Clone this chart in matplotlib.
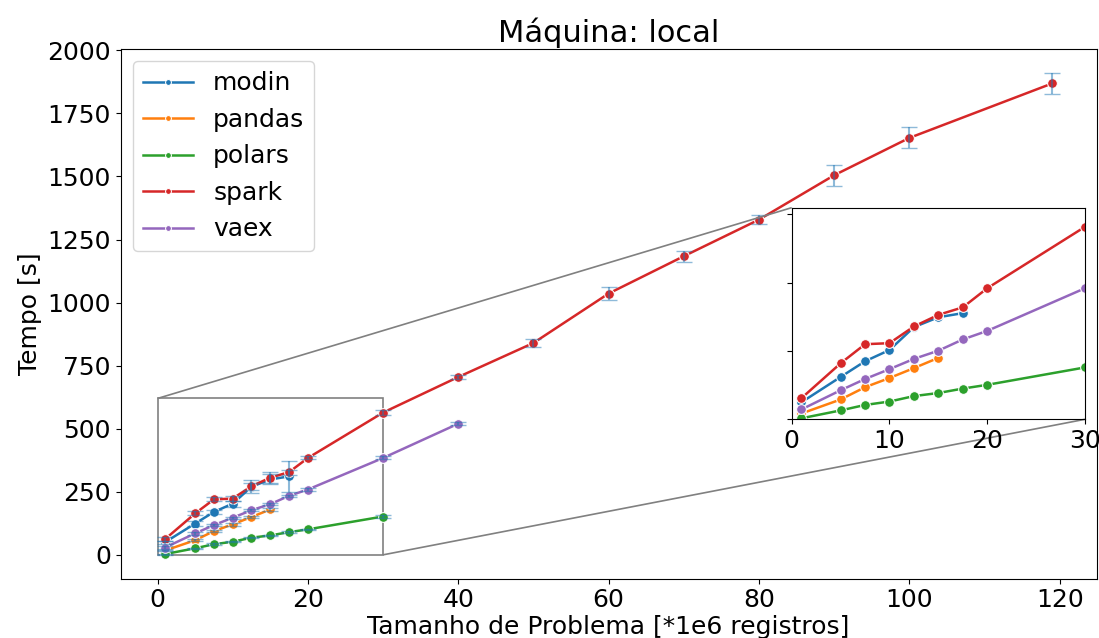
import numpy as np
import matplotlib.pyplot as plt
from mpl_toolkits.axes_grid1.inset_locator import mark_inset

# Tempo medio [s] por biblioteca e tamanho (*1e6 registros)
bibliotecas = ['modin', 'pandas', 'polars', 'spark', 'vaex']
cores = ['#1f77b4', '#ff7f0e', '#2ca02c', '#d62728', '#9467bd']

x_modin = [1, 5, 7.5, 10, 12.5, 15, 17.5]
y_modin = [50, 124, 170, 203, 270, 299, 311]
e_modin = [6, 10, 8, 12, 14, 20, 60]

x_pandas = [1, 5, 7.5, 10, 12.5, 15]
y_pandas = [17, 58, 94, 121, 150, 180]
e_pandas = [3, 5, 5, 5, 5, 6]

x_polars = [1, 5, 7.5, 10, 12.5, 15, 17.5, 20, 30]
y_polars = [3, 26, 42, 52, 68, 77, 90, 101, 152]
e_polars = [2, 3, 3, 3, 3, 3, 3, 3, 4]

x_spark = [1, 5, 7.5, 10, 12.5, 15, 17.5, 20, 30, 40, 50, 60, 70, 80, 90, 100, 119]
y_spark = [62, 164, 220, 223, 272, 306, 328, 384, 564, 705, 840, 1036, 1184, 1329, 1505, 1653, 1869]
e_spark = [8, 8, 8, 10, 26, 23, 10, 6, 10, 8, 15, 25, 22, 17, 41, 42, 41]

x_vaex = [1, 5, 7.5, 10, 12.5, 15, 17.5, 20, 30, 40]
y_vaex = [29, 85, 118, 147, 177, 201, 234, 259, 384, 520]
e_vaex = [5, 5, 5, 5, 5, 5, 5, 5, 6, 6]

xs = [x_modin, x_pandas, x_polars, x_spark, x_vaex]
ys = [y_modin, y_pandas, y_polars, y_spark, y_vaex]
es = [e_modin, e_pandas, e_polars, e_spark, e_vaex]

fig = plt.figure(figsize=(10.99, 6.38), dpi=100)
ax = fig.add_axes([0.1098, 0.0930, 0.888, 0.8302])

for nome, cor, x, y in zip(bibliotecas, cores, xs, ys):
    ax.plot(x, y, '-o', color=cor, lw=1.8, ms=7, mec='white', mew=0.75, label=nome)
for x, y, e in zip(xs, ys, es):
    ax.errorbar(x, y, yerr=e, fmt='none', ecolor='#1f77b4', alpha=0.5, capsize=5.5, elinewidth=1.5)

ax.set_title('Máquina: local', fontsize=22, pad=5)
ax.set_xlabel('Tamanho de Problema [*1e6 registros]', fontsize=18, labelpad=2)
ax.set_ylabel('Tempo [s]', fontsize=18)
ax.tick_params(labelsize=18)
ax.set_yticks(np.arange(0, 2001, 250))
ax.legend(loc='upper left', fontsize=18, markerscale=0.6)

# ZOOM
axins = fig.add_axes([0.7204, 0.3428, 0.2669, 0.3317])
for cor, x, y in zip(cores, xs, ys):
    axins.plot(x, y, '-o', color=cor, lw=1.8, ms=7, mec='white', mew=0.75)
axins.set_xlim(0, 30)
axins.set_ylim(0, 620)
axins.set_xticks([0, 10, 20, 30])
axins.set_yticks([0, 200, 400, 600])
axins.set_yticklabels([])
axins.tick_params(labelsize=18)
mark_inset(ax, axins, loc1=2, loc2=4, fc='none', ec='0.5', lw=1.2)

fig.savefig('out.png', dpi=100)
